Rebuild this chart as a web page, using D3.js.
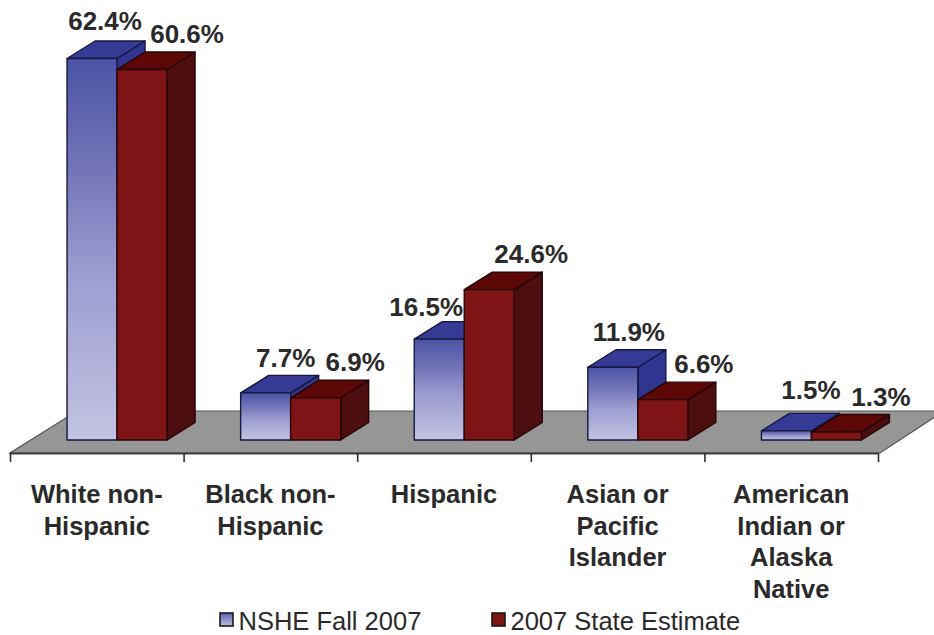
<!DOCTYPE html>
<html><head><meta charset="utf-8">
<script src="https://cdn.jsdelivr.net/npm/d3@7"></script>
<style>html,body{margin:0;padding:0;background:#fff}svg{display:block}text{font-family:"Liberation Sans",Arial,sans-serif;fill:#2b2a2b}</style>
</head><body><div id="c"></div>
<script>
const categories = [["White non-","Hispanic"],["Black non-","Hispanic"],["Hispanic"],["Asian or","Pacific","Islander"],["American","Indian or","Alaska","Native"]];
const seriesNames = ["NSHE Fall 2007","2007 State Estimate"];
const nshe = [62.4,7.7,16.5,11.9,1.5];
const stateEst = [60.6,6.9,24.6,6.6,1.3];
// label placement relative to the bar's centre / top
const nudgeX = [[13,45],[20,39.5],[-13,42],[16,41],[24.5,44.5]];
const nudgeY = [[-28.5,-27],[-26,-27],[-23,-26.6],[-26,-27],[-32,-26]];

const W=934,H=635, baseY=440, dx=28, dy=-17.5;
const svg=d3.select("#c").append("svg").attr("width",W).attr("height",H);
const defs=svg.append("defs");
const g=defs.append("linearGradient").attr("id","blueGrad").attr("x1",0).attr("y1",0).attr("x2",0).attr("y2",1);
g.append("stop").attr("offset",0).attr("stop-color","#4a53a5");
g.append("stop").attr("offset",.3).attr("stop-color","#7476b8");
g.append("stop").attr("offset",.55).attr("stop-color","#9b9bd0");
g.append("stop").attr("offset",1).attr("stop-color","#c3c3e2");
const gl=defs.append("linearGradient").attr("id","legendGrad").attr("x1",0).attr("y1",0).attr("x2",0).attr("y2",1);
gl.append("stop").attr("offset",0).attr("stop-color","#5a62ac");
gl.append("stop").attr("offset",1).attr("stop-color","#bcbde0");

const x0=d3.scaleBand().domain(d3.range(categories.length)).range([10,878]);
const x1=d3.scaleBand().domain([0,1]).range([0,x0.bandwidth()]).paddingOuter(0.736).paddingInner(0).align(0.775);
const y=d3.scaleLinear().domain([0,62.4]).range([baseY,58.5]);
const tickPos=d3.scaleLinear().domain([0,categories.length]).range([10,878]);
const line=d3.line();

// floor
svg.append("clipPath").attr("id","pg").append("rect").attr("width",W).attr("height",H);
svg.append("path").attr("clip-path","url(#pg)")
  .attr("d",line([[10,453],[880,453],[944,411],[77,411]])+"Z")
  .attr("fill","#969696").attr("stroke","#555").attr("stroke-width",1.2);

// axis
const axis=d3.axisBottom(tickPos).tickValues(d3.range(categories.length+1)).tickFormat("").tickSize(9).tickSizeOuter(0);
const ax=svg.append("g").attr("transform","translate(0,453)").call(axis);
ax.selectAll("path").attr("stroke","#3e3e3e").attr("stroke-width",2);
ax.selectAll("line").attr("stroke","#2e2e2e").attr("stroke-width",1.6);

const styles=[{front:"url(#blueGrad)",top:"#353b95",side:"#30368f",edge:"#15183f"},
              {front:"#7f1416",top:"#5e0707",side:"#4c0e0e",edge:"#250404"}];
[nshe,stateEst].forEach((vals,s)=>{
  const st=styles[s];
  const bars=svg.append("g").selectAll("g").data(vals).join("g");
  bars.each(function(v,i){
    const b=d3.select(this), xl=x0(i)+x1(s), xr=xl+x1.bandwidth(), yt=y(v);
    const shape=(pts,fill)=>b.append("path").attr("d",line(pts)+"Z").attr("fill",fill)
      .attr("stroke",st.edge).attr("stroke-width",1.4).attr("stroke-linejoin","round");
    shape([[xr,yt],[xr+dx,yt+dy],[xr+dx,baseY+dy],[xr,baseY]],st.side);
    shape([[xl,yt],[xl+dx,yt+dy],[xr+dx,yt+dy],[xr,yt]],st.top);
    shape([[xl,yt],[xr,yt],[xr,baseY],[xl,baseY]],st.front);
  });
});

// value labels
[nshe,stateEst].forEach((vals,s)=>{
  svg.append("g").selectAll("text").data(vals).join("text")
    .attr("x",(v,i)=>x0(i)+x1(s)+x1.bandwidth()/2+nudgeX[i][s])
    .attr("y",(v,i)=>y(v)+nudgeY[i][s])
    .attr("text-anchor","middle").attr("font-size",26).attr("font-weight","bold")
    .text(v=>v.toFixed(1)+"%");
});

// category labels
const cat=svg.append("g").selectAll("text").data(categories).join("text")
  .attr("text-anchor","middle").attr("font-size",25.5).attr("font-weight","bold")
  .attr("transform",(d,i)=>`translate(${x0(i)+x0.bandwidth()/2},503)`);
cat.selectAll("tspan").data(d=>d).join("tspan").attr("x",0).attr("y",(d,i)=>i*31.6).text(d=>d);

// legend
const legendX=d3.scaleOrdinal().domain([0,1]).range([220,492]);
const lg=svg.append("g").selectAll("g").data(seriesNames).join("g")
  .attr("transform",(d,i)=>`translate(${legendX(i)},613)`);
lg.append("rect").attr("width",13).attr("height",13)
  .attr("fill",(d,i)=>i?"#7f1416":"url(#legendGrad)").attr("stroke","#1a1a1a").attr("stroke-width",1.6);
lg.append("text").attr("x",18.5).attr("y",16.5).attr("font-size",25.5).text(d=>d);
</script></body></html>
